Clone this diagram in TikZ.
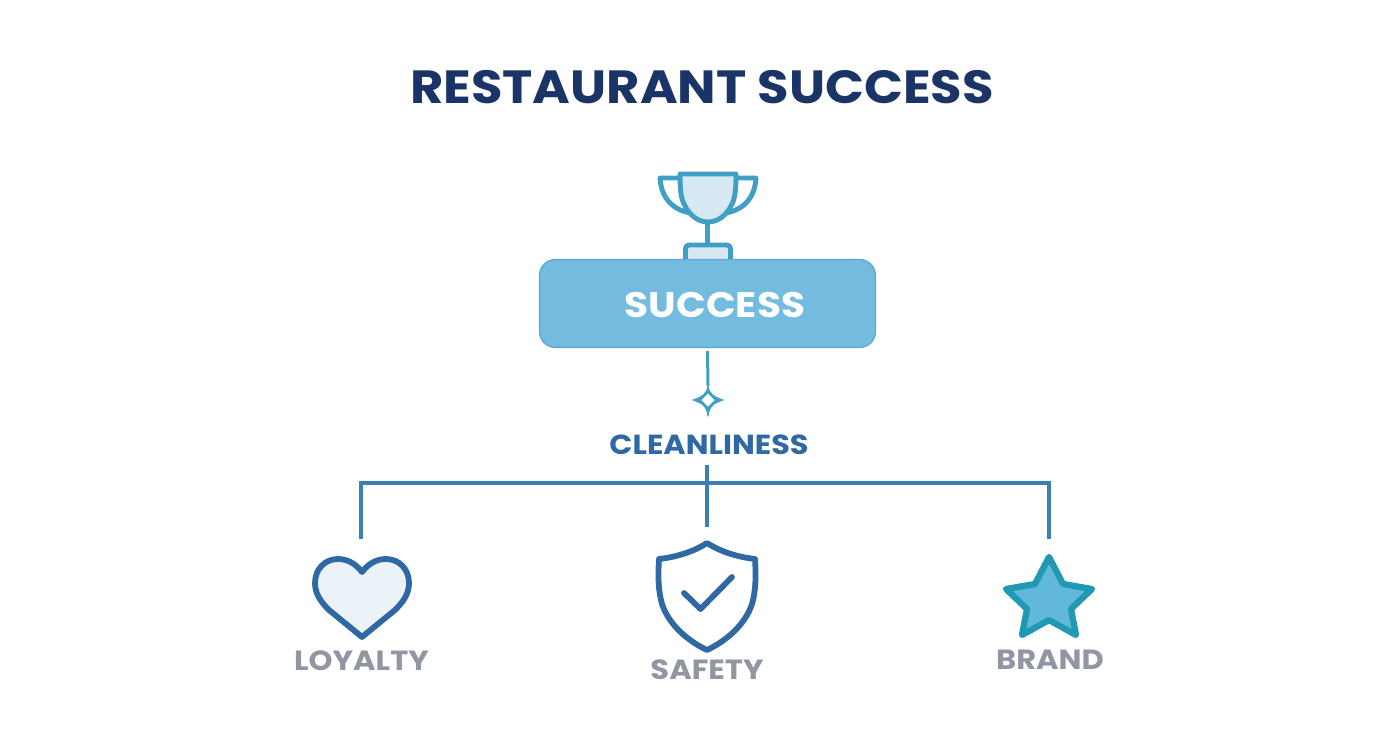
\documentclass[tikz,border=0pt]{standalone}
\usepackage{fontspec}
\setmainfont{Poppins}[FakeStretch=1.1]
\definecolor{navy}{HTML}{1B3468}
\definecolor{boxblue}{HTML}{74BBE0}
\definecolor{boxedge}{HTML}{5CA8CF}
\definecolor{cupblue}{HTML}{3F9FC4}
\definecolor{cupfill}{HTML}{D6E9F3}
\definecolor{linkblue}{HTML}{3A80B5}
\definecolor{iconblue}{HTML}{2F69A3}
\definecolor{heartfill}{HTML}{EBF2F8}
\definecolor{starfill}{HTML}{62B8D8}
\definecolor{staredge}{HTML}{2199B5}
\definecolor{greytext}{HTML}{9197A2}
\begin{document}
\begin{tikzpicture}[x=0.02cm,y=-0.02cm,
    link/.style={draw=linkblue,line width=2.1pt},
    label/.style={inner sep=0pt,font=\bfseries\fontsize{15.8}{18}\selectfont,text=greytext},
    cupline/.style={draw=cupblue,line width=2.8pt,line join=round},
    iconline/.style={draw=iconblue,line width=3.3pt,line join=round,line cap=round}]

    \useasboundingbox (0,0) rectangle (1392,752);

    % Title
    \node[inner sep=0pt,font=\bfseries\fontsize{26.5}{30}\selectfont,text=navy] (title) at (702,87.5) {RESTAURANT SUCCESS};

    % Trophy above the box
    \draw[cupline] (680,178) -- (660,178) .. controls (661,196) and (671,210) .. (691,213);
    \draw[cupline] (736,178) -- (756,178) .. controls (755,196) and (745,210) .. (725,213);
    \draw[cupline,fill=cupfill] (680,174) -- (736,174) .. controls (736,190) and (735,198) .. (732,204)
      .. controls (727,215) and (718,222) .. (708,222)
      .. controls (698,222) and (689,215) .. (684,204) .. controls (681,198) and (680,190) .. (680,174) -- cycle;
    \draw[draw=cupblue,line width=3.4pt] (707.5,222) -- (707.5,243);
    \draw[cupline,fill=cupfill,rounded corners=2pt] (685.5,260) -- (685.5,245) -- (730.5,245) -- (730.5,260);

    % Main box
    \node[draw=boxedge,fill=boxblue,rounded corners=9pt,minimum width=6.72cm,minimum height=1.76cm,line width=0.7pt] (success) at (707.5,303.5) {};
    \node[inner sep=0pt,font=\bfseries\fontsize{20.2}{22}\selectfont,text=white] (successtext) at (715,304.5) {SUCCESS};

    % Four pointed mark under the box
    \coordinate (spark) at (708,386);
    \draw[draw=cupblue,line width=0.6pt,line join=round,fill=cupblue] (spark) .. controls (709,394) and (714,397) .. (723,400)
      .. controls (714,403) and (709,406) .. (708,416) .. controls (707,406) and (702,403) .. (693,400)
      .. controls (702,397) and (707,394) .. (spark) -- cycle;
    \path[fill=white] (708,393.5) -- (714.5,400) -- (708,406.5) -- (701.5,400) -- cycle;
    \draw[draw=cupblue,line width=1.7pt] (707.5,351) -- (spark);

    \node[inner sep=0pt,font=\bfseries\fontsize{15.7}{18}\selectfont,text=iconblue] (cleanliness) at (709,445) {CLEANLINESS};

    % Branches
    \coordinate (trunk) at (707,465);
    \coordinate (hub) at (707,483);
    \coordinate (leftend) at (361,483);
    \coordinate (rightend) at (1049,483);
    \coordinate (leftdrop) at (361,539);
    \coordinate (middrop) at (707,527);
    \coordinate (rightdrop) at (1049,539);
    \draw[link] (leftdrop) -- (leftend) -- (rightend) -- (rightdrop);
    \draw[link] (trunk) -- (hub) -- (middrop);

    % Heart
    \draw[iconline,fill=heartfill] (362,572) .. controls (355,563) and (347,559) .. (338,559)
      .. controls (325,559) and (315,569) .. (315,583) .. controls (315,594) and (321,602) .. (329,610)
      -- (362,637) -- (395,610) .. controls (403,602) and (409,594) .. (409,583)
      .. controls (409,569) and (399,559) .. (386,559) .. controls (377,559) and (369,563) .. (362,572) -- cycle;
    \node[label] (loyalty) at (361.5,661) {LOYALTY};

    % Shield
    \draw[iconline,fill=white] (707,543) .. controls (693,552) and (676,557) .. (659,559)
      .. controls (658,575) and (658,590) .. (662,604) .. controls (669,625) and (688,641) .. (707,650)
      .. controls (726,641) and (745,625) .. (752,604) .. controls (756,590) and (756,575) .. (755,559)
      .. controls (738,557) and (721,552) .. (707,543) -- cycle;
    \draw[iconline] (684,593) -- (700.5,609) -- (732,577);
    \node[label] (safety) at (707,670) {SAFETY};

    % Star
    \draw[draw=staredge,fill=starfill,line width=3.6pt,line join=round] (1049,557) -- (1063,584) -- (1092,589)
      -- (1071,609) -- (1076,635) -- (1049,620) -- (1022,635) -- (1027,609) -- (1006,589) -- (1035,584) -- cycle;
    \node[label] (brand) at (1050,660) {BRAND};

  \end{tikzpicture}
\end{document}
